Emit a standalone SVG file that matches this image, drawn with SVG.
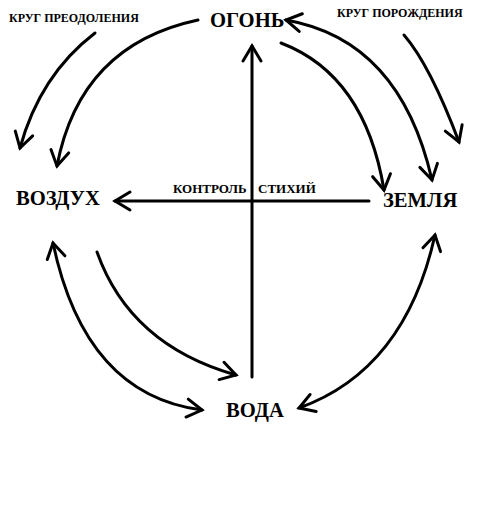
<svg xmlns="http://www.w3.org/2000/svg" width="483" height="507" viewBox="0 0 483 507">
<style>
  .bg { fill: #ffffff; }
  .node { font-family: "Liberation Serif", "Times New Roman", serif; font-weight: bold; font-size: 20.6px; fill: #000; }
  .lbl { font-family: "Liberation Serif", "Times New Roman", serif; font-weight: bold; font-size: 13px; fill: #000; }
  .lbl-sm { font-family: "Liberation Serif", "Times New Roman", serif; font-weight: bold; font-size: 12px; fill: #000; }
  .c { fill: none; stroke: #000; stroke-width: 3; stroke-linecap: round; }
  .ah { marker-end: url(#arr); }
  .both { marker-start: url(#arr); marker-end: url(#arr); }
</style>
<defs>
  <marker id="arr" markerUnits="userSpaceOnUse" viewBox="-20 -12 24 24" refX="0" refY="0" markerWidth="24" markerHeight="24" orient="auto-start-reverse" overflow="visible">
    <path d="M-15,-9 L0,0 L-15,9" fill="none" stroke="#000" stroke-width="3" stroke-linecap="round" stroke-linejoin="miter"/>
  </marker>
</defs>
<rect class="bg" x="0" y="0" width="483" height="507"/>
<g id="connectors">
  <path id="c-preod-outer" class="c ah" d="M95,33 Q40,75 20,148"/>
  <path id="c-fire-air" class="c ah" d="M198,20 Q80,45 57,166"/>
  <path id="c-porozh-outer" class="c ah" d="M404,35 Q430,65 459,142"/>
  <path id="c-fire-earth" class="c ah" d="M281,43 Q365,75 384,190"/>
  <path id="c-fire-earth-both" class="c both" d="M286,20 Q400,40 432,180"/>
  <path id="c-air-water-both" class="c both" d="M53,243 Q85,395 202,410"/>
  <path id="c-air-water" class="c ah" d="M97,252 Q130,345 236,375"/>
  <path id="c-water-earth-both" class="c both" d="M299,408 Q405,370 435,235"/>
  <path id="c-vertical" class="c ah" d="M252,377 L252,46"/>
  <path id="c-horizontal" class="c ah" d="M369,201 L115,201"/>
</g>
<g id="labels">
  <text class="lbl-sm" x="9" y="22">КРУГ ПРЕОДОЛЕНИЯ</text>
  <text class="lbl-sm" x="337" y="17">КРУГ ПОРОЖДЕНИЯ</text>
  <text class="lbl" x="173" y="193">КОНТРОЛЬ</text>
  <text class="lbl" x="258" y="193">СТИХИЙ</text>
</g>
<g id="node-fire"><text class="node" x="210" y="27">ОГОНЬ</text></g>
<g id="node-air"><text class="node" x="16" y="205">ВОЗДУХ</text></g>
<g id="node-earth"><text class="node" x="383" y="207">ЗЕМЛЯ</text></g>
<g id="node-water"><text class="node" x="226" y="417">ВОДА</text></g>
</svg>
